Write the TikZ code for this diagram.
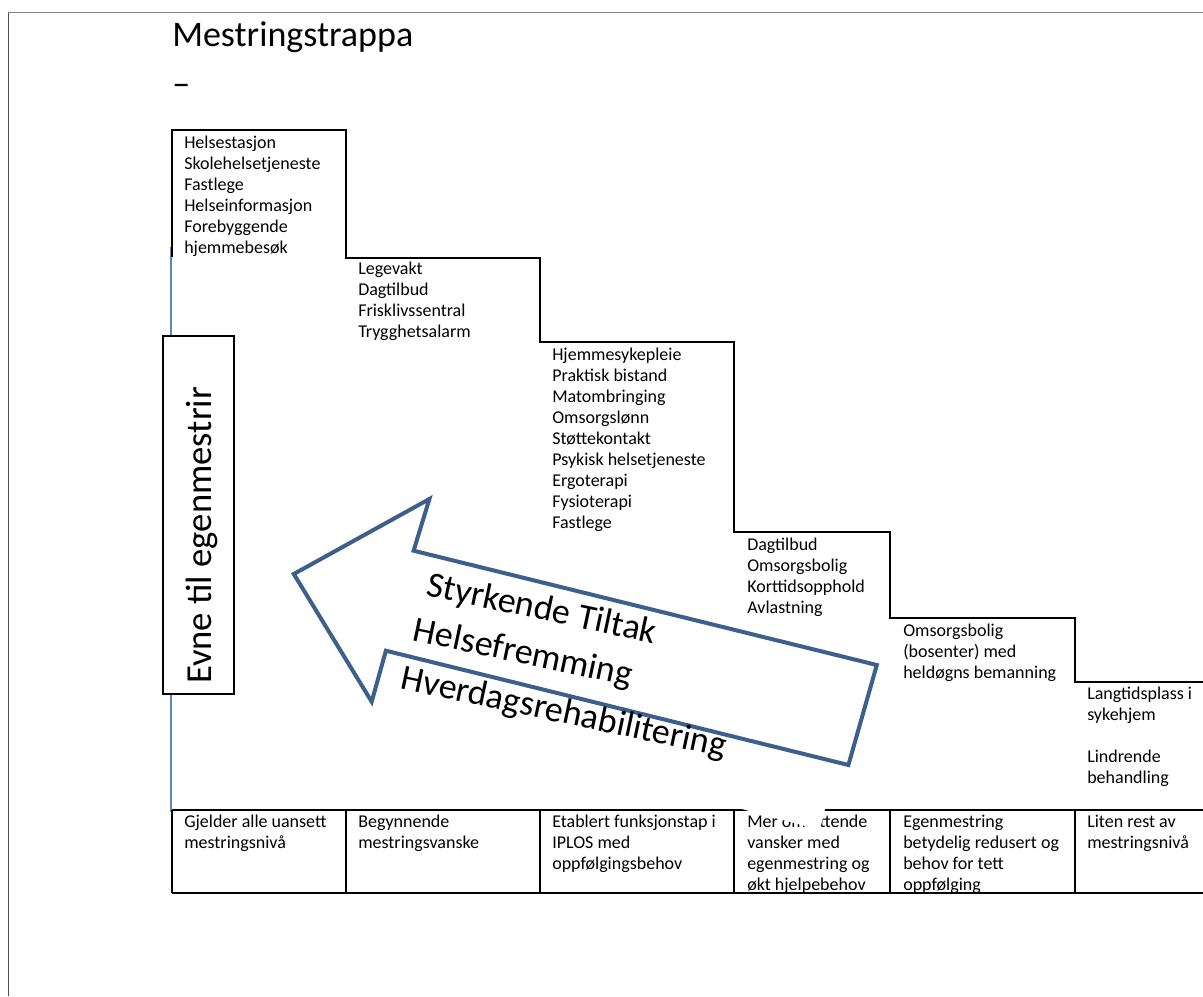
\documentclass[tikz,border=0pt]{standalone}
\usepackage{fontspec}
\setmainfont{Carlito}
\definecolor{arrowblue}{HTML}{3C5F8C}
\definecolor{axisblue}{HTML}{5B86C0}
\begin{document}
\begin{tikzpicture}[x=0.75pt,y=-0.75pt,
  stair/.style={line width=1.5pt,black,line join=miter},
  cell/.style={line width=1.5pt,black},
  txt/.style={font=\fontsize{13.5}{15.75}\selectfont,align=left,anchor=north west,inner sep=0pt},
  big/.style={font=\fontsize{27}{33}\selectfont,inner sep=0pt},
  arrowline/.style={draw=arrowblue,line width=3pt,line join=miter}]
\useasboundingbox (0,0) rectangle (1203,996);
\fill[white] (0,0) rectangle (1203,996);
% page border
\draw[gray!60!black,line width=0.75pt] (8,996) -- (8,12);
\draw[gray,line width=0.75pt] (8,12) -- (1203,12);
% title
\node[big,anchor=base west] (title) at (172,46) {Mestringstrappa};
\node[big,anchor=base west] (dash) at (172,95) {–};
% axis line
\draw[axisblue,line width=1pt] (171,247) -- (171,812);
% stairs
\draw[stair] (172,257) -- (172,130) -- (346,130) -- (346,258) -- (540,258) -- (540,342)
  -- (734,342) -- (734,532) -- (890,532) -- (890,618) -- (1075,618) -- (1075,682) -- (1203,682);
% table
\draw[cell] (172,810) -- (1203,810);
\draw[cell] (172,893) -- (1203,893);
\foreach \xx in {172,346,540,734,890,1075} \draw[cell] (\xx,810) -- (\xx,893);
% stair texts
\node[txt] (s1) at (184,133.3) {\strut Helsestasjon\\Skolehelsetjeneste\\Fastlege\\Helseinformasjon\\Forebyggende\\hjemmebesøk};
\node[txt] (s2) at (358,259.3) {\strut Legevakt\\Dagtilbud\\Frisklivssentral\\Trygghetsalarm};
\node[txt] (s3) at (552,345.3) {\strut Hjemmesykepleie\\Praktisk bistand\\Matombringing\\Omsorgslønn\\Støttekontakt\\Psykisk helsetjeneste\\Ergoterapi\\Fysioterapi\\Fastlege};
\node[txt] (s4) at (747,535.3) {\strut Dagtilbud\\Omsorgsbolig\\Korttidsopphold\\Avlastning};
\node[txt] (s5) at (903,621.3) {\strut Omsorgsbolig\\(bosenter) med\\heldøgns bemanning};
\node[txt] (s6) at (1087,684.3) {\strut Langtidsplass i\\sykehjem\\[15.75pt]Lindrende\\behandling};
% table texts
\node[txt] (c1) at (184,812.3) {\strut Gjelder alle uansett\\mestringsnivå};
\node[txt] (c2) at (358,812.3) {\strut Begynnende\\mestringsvanske};
\node[txt] (c3) at (552,812.3) {\strut Etablert funksjonstap i\\IPLOS med\\oppfølgingsbehov};
\node[txt] (c4) at (747,812.3) {\strut Mer omfattende\\vansker med\\egenmestring og\\økt hjelpebehov};
\node[txt] (c5) at (903,812.3) {\strut Egenmestring\\betydelig redusert og\\behov for tett\\oppfølging};
\node[txt] (c6) at (1087,812.3) {\strut Liten rest av\\mestringsnivå};
% vertical label box
\node[draw=black,line width=1pt,fill=white,minimum width=71*0.75pt,minimum height=358*0.75pt,inner sep=0pt] (evnebox) at (198.5,515) {};
\node[big,font=\fontsize{27.5}{33}\selectfont,anchor=base,rotate=90] (evne) at (211,535.5) {Evne til egenmestrir};
% white text box behind arrow
\fill[white] (405,542) -- (859,664) -- (820,830) -- (366,708) -- cycle;
% arrow
\draw[arrowline] (293.8,574) -- (429.4,499) -- (413.6,550.7) -- (876.8,665) -- (848.4,765)
  -- (385.9,650.7) -- (371.7,701.7) -- cycle;
% arrow texts
\node[big,anchor=base west,rotate=-12] (t1) at (425,595) {Styrkende Tiltak};
\node[big,anchor=base west,rotate=-12] (t2) at (411.7,640) {Helsefremming};
\node[big,anchor=base west,rotate=-12] (t3) at (399.3,688.3) {Hverdagsrehabilitering};
\end{tikzpicture}
\end{document}
